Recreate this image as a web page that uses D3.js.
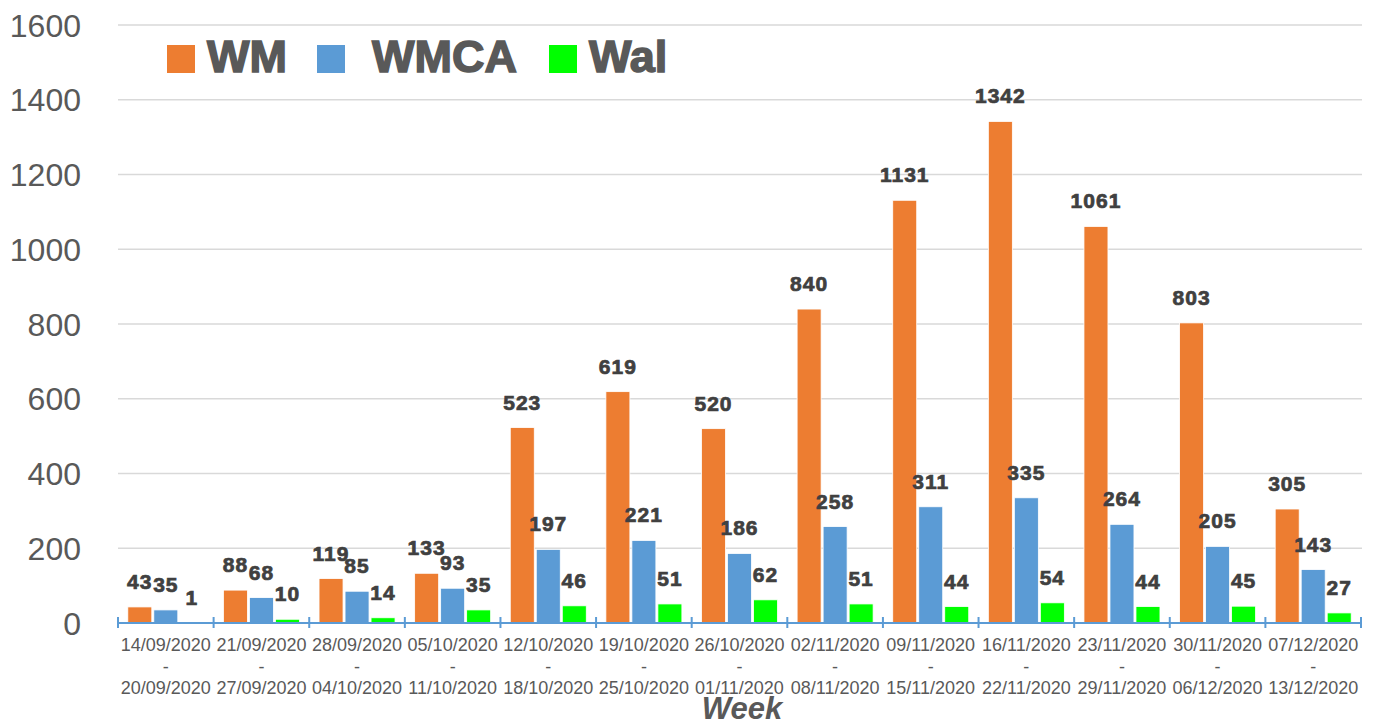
<!DOCTYPE html>
<html>
<head>
<meta charset="utf-8">
<script src="https://cdn.jsdelivr.net/npm/d3@7"></script>
<style>
  body { margin: 0; background: #fff; }
  svg { display: block; font-family: "Liberation Sans", Arial, sans-serif; }
</style>
</head>
<body>
<div id="chart"></div>
<script>
// week ranges
const weekStart = ["14/09/2020","21/09/2020","28/09/2020","05/10/2020","12/10/2020","19/10/2020","26/10/2020",
  "02/11/2020","09/11/2020","16/11/2020","23/11/2020","30/11/2020","07/12/2020"];
const weekEnd = ["20/09/2020","27/09/2020","04/10/2020","11/10/2020","18/10/2020","25/10/2020","01/11/2020",
  "08/11/2020","15/11/2020","22/11/2020","29/11/2020","06/12/2020","13/12/2020"];

const seriesNames = ["WM", "WMCA", "Wal"];
const wmValues   = [43, 88, 119, 133, 523, 619, 520, 840, 1131, 1342, 1061, 803, 305];
const wmcaValues = [35, 68, 85, 93, 197, 221, 186, 258, 311, 335, 264, 205, 143];
const walValues  = [1, 10, 14, 35, 46, 51, 62, 51, 44, 54, 44, 45, 27];
const yTicks = [0, 200, 400, 600, 800, 1000, 1200, 1400, 1600];

const colors = {WM: "#ed7d31", WMCA: "#5b9bd5", Wal: "#00ff00"};
const seriesValues = {WM: wmValues, WMCA: wmcaValues, Wal: walValues};

const W = 1376, H = 722;
const svg = d3.select("#chart").append("svg").attr("width", W).attr("height", H);

const x0 = d3.scaleBand().domain(weekStart).range([118, 1361]);
const x1 = d3.scaleBand().domain(seriesNames).range([0, x0.bandwidth()])
  .paddingInner(0.077).paddingOuter(0.377);
const y = d3.scaleLinear().domain([0, 1600]).range([623, 25]);

// gridlines
svg.append("g").selectAll("line").data(yTicks.slice(1)).join("line")
  .attr("x1", 118).attr("x2", 1362)
  .attr("y1", d => y(d)).attr("y2", d => y(d))
  .attr("stroke", "#d9d9d9").attr("stroke-width", 1.5);

// y labels
svg.append("g").selectAll("text").data(yTicks).join("text")
  .attr("x", 81).attr("y", d => y(d)).attr("dy", "0.36em")
  .attr("text-anchor", "end").attr("fill", "#595959")
  .style("font-size", "32px")
  .text(d => d);

// bars
const groups = svg.append("g").selectAll("g").data(weekStart).join("g")
  .attr("transform", d => `translate(${x0(d)},0)`);

groups.selectAll("rect").data((d, i) => seriesNames.map(s => ({s, v: seriesValues[s][i]}))).join("rect")
  .attr("x", d => x1(d.s)).attr("width", x1.bandwidth())
  .attr("y", d => y(d.v)).attr("height", d => y(0) - y(d.v))
  .attr("fill", d => colors[d.s])
  .attr("stroke", "#fff").attr("stroke-width", 0.8);

groups.selectAll("text").data((d, i) => seriesNames.map(s => ({s, v: seriesValues[s][i]}))).join("text")
  .attr("x", d => x1(d.s) + x1.bandwidth() / 2)
  .attr("y", d => y(d.v) - 18)
  .attr("text-anchor", "middle").attr("fill", "#404040")
  .attr("stroke", "#404040").attr("stroke-width", 0.7)
  .style("font-size", "21px").style("font-weight", "bold").style("letter-spacing", "1px")
  .text(d => d.v);

// x axis
svg.append("line").attr("x1", 118).attr("x2", 1361).attr("y1", 623).attr("y2", 623)
  .attr("stroke", "#5b9bd5").attr("stroke-width", 2);
const tickPos = weekStart.map(d => x0(d)).concat([x0.range()[1]]);
svg.append("g").selectAll("line").data(tickPos).join("line")
  .attr("x1", d => d).attr("x2", d => d).attr("y1", 617).attr("y2", 628)
  .attr("stroke", "#5b9bd5").attr("stroke-width", 2);

const xl = svg.append("g").selectAll("text").data(weekStart).join("text")
  .attr("text-anchor", "middle").attr("fill", "#595959").style("font-size", "18px");
xl.append("tspan").attr("x", d => x0(d) + x0.bandwidth() / 2).attr("y", 651).text(d => d);
xl.append("tspan").attr("x", d => x0(d) + x0.bandwidth() / 2).attr("y", 673).text("-");
xl.append("tspan").attr("x", d => x0(d) + x0.bandwidth() / 2).attr("y", 694).text((d, i) => weekEnd[i]);

svg.append("text").attr("x", 742).attr("y", 719).attr("text-anchor", "middle")
  .attr("fill", "#595959").style("font-size", "31px").style("font-weight", "bold").style("font-style", "italic")
  .text("Week");

// legend
const legendX = [167, 317, 549];
const lg = svg.append("g").selectAll("g").data(seriesNames).join("g")
  .attr("transform", (d, i) => `translate(${legendX[i]},0)`);
lg.append("rect").attr("x", 0).attr("y", 45).attr("width", 28).attr("height", 28)
  .attr("fill", d => colors[d]);
lg.append("text").attr("x", (d, i) => i == 1 ? 55 : 40).attr("y", 72)
  .attr("fill", "#595959").attr("stroke", "#595959").attr("stroke-width", 1.5)
  .style("font-size", "45px").style("font-weight", "bold")
  .text(d => d);
</script>
</body>
</html>
